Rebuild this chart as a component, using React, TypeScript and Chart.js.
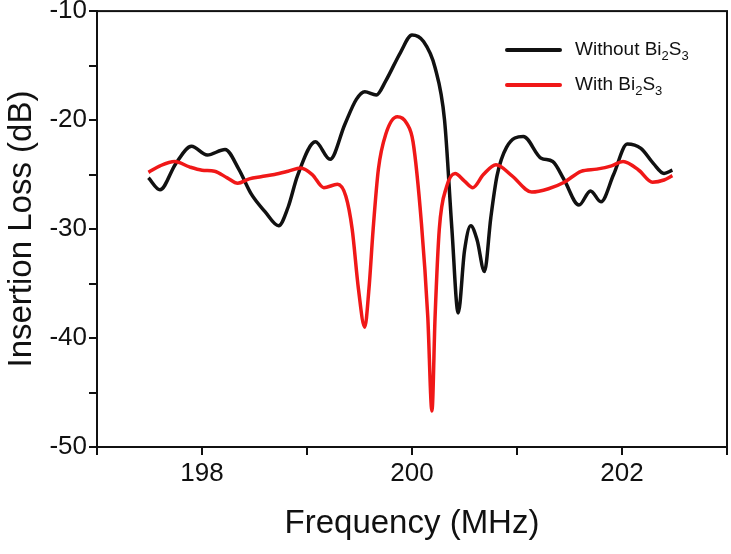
import React, { useEffect, useRef } from 'react';
import { Chart, registerables } from 'chart.js';

Chart.register(...registerables);

// Frequency (MHz) / insertion loss (dB)
const blackFreq = [
  197.49, 197.6, 197.75, 197.9, 198.05, 198.22, 198.35, 198.47, 198.6, 198.73,
  198.82, 198.91, 199.08, 199.22, 199.36, 199.47, 199.55, 199.66, 199.75, 199.89,
  200.0, 200.11, 200.22, 200.31, 200.38, 200.44, 200.5, 200.56, 200.62, 200.69,
  200.75, 200.81, 200.9, 201.06, 201.23, 201.34, 201.45, 201.59, 201.7, 201.8,
  201.92, 202.05, 202.18, 202.3, 202.4, 202.48,
];
const blackLoss = [
  -25.3, -26.4, -24.0, -22.4, -23.2, -22.7, -24.5, -26.8, -28.4, -29.7,
  -28.0, -25.1, -22.0, -23.6, -20.4, -18.1, -17.4, -17.7, -16.4, -13.8,
  -12.2, -12.8, -15.2, -20.0, -30.0, -37.7, -32.0, -29.7, -31.0, -33.9,
  -29.0, -25.1, -22.5, -21.5, -23.5, -23.8, -25.5, -27.8, -26.5, -27.5,
  -25.0, -22.2, -22.6, -24.0, -24.9, -24.6,
];

const redFreq = [
  197.49, 197.6, 197.74, 197.88, 198.0, 198.12, 198.24, 198.34, 198.45, 198.56,
  198.69, 198.82, 198.94, 199.05, 199.16, 199.29, 199.37, 199.43, 199.49, 199.55,
  199.59, 199.63, 199.68, 199.75, 199.86, 199.95, 200.01, 200.09, 200.15, 200.19,
  200.22, 200.26, 200.33, 200.41, 200.5, 200.58, 200.68, 200.8, 200.95, 201.14,
  201.3, 201.45, 201.61, 201.76, 201.9, 202.01, 202.16, 202.29, 202.4, 202.48,
];
const redLoss = [
  -24.8, -24.2, -23.8, -24.3, -24.6, -24.7, -25.3, -25.8, -25.4, -25.2,
  -25.0, -24.7, -24.4, -25.0, -26.2, -25.9, -27.0, -30.0, -35.5, -39.0,
  -35.5, -30.0, -24.5, -21.3, -19.7, -20.3, -22.0, -29.5, -38.0, -46.7,
  -38.0, -30.0, -26.1, -24.9, -25.6, -26.2, -25.0, -24.1, -25.1, -26.6,
  -26.3, -25.7, -24.7, -24.5, -24.2, -23.8, -24.6, -25.7, -25.5, -25.1,
];

const seriesNames = ['Without Bi2S3', 'With Bi2S3'];
const seriesColors = ['#111111', '#f01818'];

const xTickLabels = [198, 200, 202];
const yTickLabels = [-10, -20, -30, -40, -50];
const xTitle = 'Frequency (MHz)';
const yTitle = 'Insertion Loss (dB)';

const FONT = '"Liberation Sans", Arial, Helvetica, sans-serif';

const framePlugin = {
  id: 'frame',
  afterDraw(chart: any) {
    const { ctx, chartArea: a } = chart;
    ctx.save();
    ctx.strokeStyle = '#111111';
    ctx.lineWidth = 2;
    ctx.strokeRect(a.left, a.top, a.right - a.left, a.bottom - a.top);
    ctx.restore();
  },
};

function drawSubText(ctx: CanvasRenderingContext2D, text: string, x: number, y: number) {
  // digits after letters are chemical subscripts
  let cx = x;
  for (const ch of text) {
    const isSub = /[0-9]/.test(ch);
    ctx.font = isSub ? `13px ${FONT}` : `19px ${FONT}`;
    ctx.fillText(ch, cx, isSub ? y + 6 : y);
    cx += ctx.measureText(ch).width;
  }
}

const legendPlugin = {
  id: 'customLegend',
  afterDraw(chart: any) {
    const { ctx, chartArea: a } = chart;
    ctx.save();
    const lx = a.left + 410;
    const rows = [a.top + 39, a.top + 74];
    seriesNames.forEach((name, i) => {
      const y = rows[i];
      ctx.strokeStyle = seriesColors[i];
      ctx.lineWidth = 4;
      ctx.lineCap = 'round';
      ctx.beginPath();
      ctx.moveTo(lx, y);
      ctx.lineTo(lx + 53, y);
      ctx.stroke();
      ctx.fillStyle = '#111111';
      ctx.textBaseline = 'middle';
      ctx.textAlign = 'left';
      drawSubText(ctx, name, lx + 68, y);
    });
    ctx.restore();
  },
};

export default function App() {
  const canvasRef = useRef<HTMLCanvasElement | null>(null);

  useEffect(() => {
    if (!canvasRef.current) return;
    const black = blackFreq.map((f, i) => ({ x: f, y: blackLoss[i] }));
    const red = redFreq.map((f, i) => ({ x: f, y: redLoss[i] }));
    const chart = new Chart(canvasRef.current, {
      type: 'line',
      data: {
        datasets: [
          {
            label: seriesNames[0],
            data: black,
            borderColor: seriesColors[0],
            borderWidth: 3.5,
            pointRadius: 0,
            cubicInterpolationMode: 'monotone',
            fill: false,
            order: 1,
          },
          {
            label: seriesNames[1],
            data: red,
            borderColor: seriesColors[1],
            borderWidth: 3.5,
            pointRadius: 0,
            cubicInterpolationMode: 'monotone',
            fill: false,
            order: 0,
          },
        ],
      },
      options: {
        animation: false,
        responsive: true,
        maintainAspectRatio: false,
        layout: { padding: { top: 10, right: 4, left: 0, bottom: 0 } },
        plugins: {
          legend: { display: false },
          tooltip: { enabled: false },
        },
        scales: {
          x: {
            type: 'linear',
            min: 197,
            max: 203,
            border: { display: true, color: '#111111', width: 2 },
            grid: {
              display: true,
              drawOnChartArea: false,
              drawTicks: true,
              tickLength: 8,
              color: '#111111',
              lineWidth: 2,
            },
            ticks: {
              stepSize: 1,
              autoSkip: false,
              maxRotation: 0,
              padding: 3,
              color: '#111111',
              font: { family: FONT, size: 26 },
              callback: (v: any) => (xTickLabels.includes(Number(v)) ? String(v) : ''),
            },
            title: {
              display: true,
              text: xTitle,
              color: '#111111',
              font: { family: FONT, size: 33 },
              padding: { top: 0, bottom: 10 },
            },
            afterFit: (scale: any) => {
              scale.height = 107;
            },
          },
          y: {
            type: 'linear',
            min: -50,
            max: -10,
            border: { display: true, color: '#111111', width: 2 },
            grid: {
              display: true,
              drawOnChartArea: false,
              drawTicks: true,
              tickLength: 8,
              color: '#111111',
              lineWidth: 2,
            },
            ticks: {
              stepSize: 5,
              autoSkip: false,
              padding: 2,
              color: '#111111',
              font: { family: FONT, size: 26, lineHeight: 0.7 },
              callback: (v: any) => (yTickLabels.includes(Number(v)) ? String(v) : ''),
            },
            title: {
              display: true,
              text: yTitle,
              color: '#111111',
              font: { family: FONT, size: 33 },
              padding: { top: 2, bottom: 0 },
            },
            afterFit: (scale: any) => {
              scale.width = 97;
            },
          },
        },
      },
      plugins: [framePlugin, legendPlugin],
    });
    return () => chart.destroy();
  }, []);

  return (
    <div style={{ position: 'fixed', left: 0, top: 0, width: 731, height: 554, background: '#ffffff' }}>
      <canvas ref={canvasRef} />
    </div>
  );
}
